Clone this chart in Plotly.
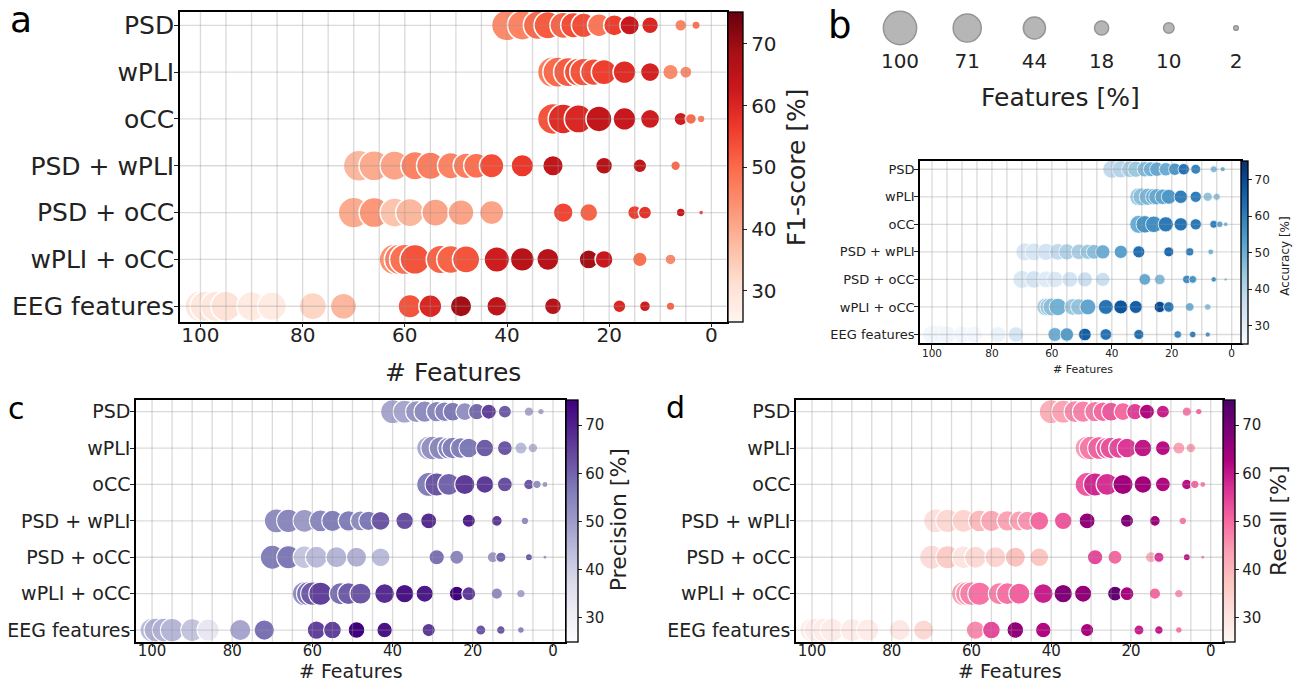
import numpy as np
import plotly.graph_objects as go

W, H = 1301, 684
FONT = "DejaVu Sans"

categories = ["PSD", "wPLI", "oCC", "PSD + wPLI", "PSD + oCC", "wPLI + oCC", "EEG features"]

# number of features kept at each elimination step (per feature set)
n_psd = [40, 37, 34, 32, 29, 27, 25, 22, 19, 16, 12, 6, 3]
n_wpli = [31, 30, 28, 26, 25, 23, 21, 17, 12, 8, 5]
n_occ = [31, 29, 26, 22, 17, 12, 6, 4, 2]
n_psd_wpli = [69, 66, 62, 58, 55, 51, 48, 46, 43, 37, 31, 21, 14, 7]
n_psd_occ = [70, 66, 62, 59, 54, 49, 43, 29, 24, 15, 13, 6, 2]
n_wpli_occ = [62, 61, 60, 58, 53, 51, 48, 42, 37, 32, 24, 21, 14, 8]
n_eeg = [100, 99, 97, 95, 90, 86, 78, 72, 59, 55, 49, 42, 31, 18, 13, 8]
feature_counts = [n_psd, n_wpli, n_occ, n_psd_wpli, n_psd_occ, n_wpli_occ, n_eeg]

# metric values [%] in the same order
f1_score = [
    [45, 46, 50, 52, 51, 54, 54, 48, 56, 63, 60, 46, 49],
    [47, 50, 52, 54, 53, 54, 56, 59, 61, 45, 45],
    [53, 59, 60, 64, 63, 62, 62, 50, 47],
    [38, 40, 41, 46, 47, 46, 47, 49, 54, 57, 64, 66, 64, 50],
    [40, 43, 36, 38, 41, 41, 41, 55, 51, 56, 58, 63, 55],
    [44, 47, 49, 53, 51, 51, 53, 62, 66, 66, 69, 63, 49, 45],
    [29, 29, 29, 30, 28, 28, 33, 38, 53, 60, 69, 65, 66, 60, 62, 51],
]
accuracy = [
    [38, 40, 42, 44, 47, 49, 51, 50, 55, 62, 59, 47, 50],
    [44, 46, 48, 50, 51, 52, 55, 60, 60, 45, 45],
    [50, 56, 57, 61, 62, 61, 60, 52, 48],
    [32, 33, 34, 38, 41, 42, 44, 46, 50, 53, 63, 64, 60, 48],
    [32, 34, 31, 32, 34, 36, 36, 51, 47, 58, 56, 58, 48],
    [42, 44, 46, 49, 44, 45, 52, 62, 68, 66, 70, 62, 50, 46],
    [27, 27, 27, 27, 26, 26, 28, 33, 50, 54, 66, 62, 63, 58, 61, 56],
]
precision = [
    [48, 48, 51, 53, 54, 55, 57, 52, 59, 65, 61, 48, 48],
    [47, 52, 54, 55, 56, 56, 57, 61, 62, 44, 45],
    [56, 62, 60, 66, 66, 63, 62, 52, 50],
    [53, 54, 50, 54, 56, 56, 53, 57, 62, 63, 68, 70, 66, 53],
    [56, 57, 42, 44, 45, 46, 44, 58, 54, 50, 60, 62, 50],
    [53, 58, 61, 65, 58, 61, 62, 68, 72, 71, 75, 66, 53, 48],
    [44, 46, 46, 45, 42, 33, 48, 58, 65, 65, 75, 72, 66, 62, 62, 55],
]
recall = [
    [41, 43, 46, 47, 48, 50, 52, 50, 55, 62, 59, 48, 50],
    [44, 48, 51, 52, 53, 54, 56, 60, 61, 43, 43],
    [52, 58, 57, 64, 64, 62, 61, 50, 47],
    [31, 33, 34, 39, 42, 43, 43, 45, 50, 52, 66, 68, 65, 48],
    [32, 36, 30, 33, 34, 38, 37, 54, 50, 41, 56, 60, 47],
    [43, 45, 47, 49, 47, 49, 51, 59, 68, 66, 72, 63, 50, 45],
    [28, 28, 28, 28, 28, 28, 29, 33, 46, 54, 66, 62, 63, 59, 60, 48],
]

legend_pct = [100, 71, 44, 18, 10, 2]
x_ticks = [0, 20, 40, 60, 80, 100]
cbar_ticks = [30, 40, 50, 60, 70]
C_MIN, C_MAX = 25, 75.2


def px(x):
    return x / W


def py(y):
    return 1 - y / H


panels = [
    dict(name="a", metric=f1_score, cs="Reds", ax="", k=3.1, lw=1.6,
         dom_x=(180, 726.7), dom_y=(11.7, 321.7), yr=[6.33, -0.29],
         cb_x=727.7, cb_th=15, ytf=25, xtf=20, cbtf=20, title_f=25,
         xso=-9, yso=-5,
         xtitle=(453, 372), cbtitle="F1-score [%]", cbt=(796.7, 167.5), cbtf2=25,
         letter=(8, 19.6, 36)),
    dict(name="b", metric=accuracy, cs="Blues", ax="2", k=1.8, lw=0.8,
         dom_x=(920, 1240.7), dom_y=(160.7, 343.3), yr=[6.32, -0.31],
         cb_x=1241.2, cb_th=6.5, ytf=13, xtf=10.5, cbtf=12, title_f=11,
         xso=-5, yso=-3,
         xtitle=(1083, 369), cbtitle="Accuracy [%]", cbt=(1285, 256.7), cbtf2=12,
         letter=(826, 25, 37)),
    dict(name="c", metric=precision, cs="Purples", ax="3", k=2.4, lw=1.2,
         dom_x=(136, 565), dom_y=(400, 641.7), yr=[6.32, -0.32],
         cb_x=566, cb_th=12, ytf=19, xtf=15, cbtf=15, title_f=19,
         xso=-9, yso=-4,
         xtitle=(350.5, 671), cbtitle="Precision [%]", cbt=(618.3, 520), cbtf2=22,
         letter=(6, 408, 30)),
    dict(name="d", metric=recall, cs="RdPu", ax="4", k=2.4, lw=1.2,
         dom_x=(796, 1222.7), dom_y=(400, 641.7), yr=[6.32, -0.32],
         cb_x=1223, cb_th=12, ytf=19, xtf=15, cbtf=15, title_f=19,
         xso=-9, yso=-4,
         xtitle=(1010, 671), cbtitle="Recall [%]", cbt=(1278.3, 520.8), cbtf2=22,
         letter=(664, 407, 30)),
]

fig = go.Figure()
shapes = []
annotations = []
layout_axes = {}

for p in panels:
    xs, ys, cs, ss = [], [], [], []
    for i, (counts, vals) in enumerate(zip(feature_counts, p["metric"])):
        mx = max(counts)
        for n, v in zip(counts, vals):
            xs.append(n)
            ys.append(i)
            cs.append(v)
            ss.append(p["k"] * np.sqrt(n / mx * 100))
    x0, x1 = p["dom_x"]
    y0, y1 = p["dom_y"]
    fig.add_trace(go.Scatter(
        x=xs, y=ys, mode="markers", xaxis="x" + p["ax"], yaxis="y" + p["ax"],
        showlegend=False, hoverinfo="skip",
        marker=dict(size=ss, sizemode="diameter", color=cs, colorscale=p["cs"],
                    cmin=C_MIN, cmax=C_MAX, opacity=1,
                    line=dict(color="white", width=p["lw"]),
                    showscale=True,
                    colorbar=dict(x=px(p["cb_x"]), xanchor="left", xpad=0, ypad=0,
                                  y=py(y0), yanchor="top", len=(y1 - y0) / H,
                                  lenmode="fraction", thickness=p["cb_th"],
                                  outlinecolor="black", outlinewidth=1.3,
                                  tickvals=cbar_ticks, ticks="outside", ticklen=4,
                                  tickcolor="#222", tickwidth=1,
                                  tickfont=dict(family=FONT, size=p["cbtf"], color="#222"))),
    ))
    xa = "xaxis" + p["ax"]
    ya = "yaxis" + p["ax"]
    layout_axes[xa] = dict(domain=[px(x0), px(x1)], range=[104, -3], anchor="y" + p["ax"],
                           tickvals=x_ticks, ticks="outside", ticklen=4, tickcolor="#222",
                           ticklabelstandoff=p["xso"],
                           showline=True, mirror=True, linecolor="black", linewidth=1.5,
                           showgrid=False, zeroline=False,
                           tickfont=dict(family=FONT, size=p["xtf"], color="#222"))
    layout_axes[ya] = dict(domain=[py(y1), py(y0)], range=p["yr"], anchor="x" + p["ax"],
                           tickvals=list(range(len(categories))), ticktext=categories,
                           ticks="outside", ticklen=4, tickcolor="#222",
                           ticklabelstandoff=p["yso"],
                           showline=True, mirror=True, linecolor="black", linewidth=1.5,
                           showgrid=False, zeroline=False,
                           tickfont=dict(family=FONT, size=p["ytf"], color="#222"))
    # grid drawn above markers (matplotlib style)
    xref = "x" + p["ax"]
    yref = "y" + p["ax"]
    for v in range(0, 101, 5):
        shapes.append(dict(type="line", xref=xref, yref=yref + " domain", x0=v, x1=v, y0=0, y1=1,
                           layer="above", line=dict(color="rgba(150,150,150,0.35)", width=1.3)))
    for i in range(len(categories)):
        shapes.append(dict(type="line", xref=xref + " domain", yref=yref, x0=0, x1=1, y0=i, y1=i,
                           layer="above", line=dict(color="rgba(150,150,150,0.35)", width=1.3)))
    annotations.append(dict(text="# Features", x=px(p["xtitle"][0]), y=py(p["xtitle"][1]),
                            xref="paper", yref="paper", showarrow=False, xanchor="center",
                            yanchor="middle", font=dict(family=FONT, size=p["title_f"], color="#222")))
    annotations.append(dict(text=p["cbtitle"], x=px(p["cbt"][0]), y=py(p["cbt"][1]),
                            xref="paper", yref="paper", showarrow=False, textangle=-90,
                            xanchor="center", yanchor="middle",
                            font=dict(family=FONT, size=p["cbtf2"], color="#222")))
    lx, ly, lf = p["letter"]
    annotations.append(dict(text=p["name"], x=px(lx), y=py(ly), xref="paper", yref="paper",
                            showarrow=False, xanchor="left", yanchor="middle",
                            font=dict(family=FONT, size=lf, color="black")))

# size legend of panel b
leg_sizes = [3.33 * np.sqrt(v) for v in legend_pct]
fig.add_trace(go.Scatter(
    x=list(range(len(legend_pct))), y=[0] * len(legend_pct), mode="markers",
    xaxis="x5", yaxis="y5", showlegend=False, hoverinfo="skip",
    marker=dict(size=leg_sizes, color="rgb(152,152,152)",
                line=dict(color="rgb(105,105,105)", width=1.5))))
layout_axes["xaxis5"] = dict(domain=[px(866.4), px(1269.6)], range=[-0.5, 5.5], anchor="y5",
                             tickvals=list(range(len(legend_pct))),
                             ticktext=[str(v) for v in legend_pct], ticks="",
                             showline=False, showgrid=False, zeroline=False,
                             tickfont=dict(family=FONT, size=20, color="#222"))
layout_axes["yaxis5"] = dict(domain=[py(47), py(9)], range=[-1, 1], anchor="x5",
                             visible=False)
annotations.append(dict(text="Features [%]", x=px(1060.8), y=py(97), xref="paper", yref="paper",
                        showarrow=False, xanchor="center", yanchor="middle",
                        font=dict(family=FONT, size=25, color="#222")))

fig.update_layout(width=W, height=H, margin=dict(l=0, r=0, t=0, b=0),
                  paper_bgcolor="white", plot_bgcolor="white",
                  font=dict(family=FONT), shapes=shapes, annotations=annotations,
                  **layout_axes)

fig.write_html("out.html", config={"displayModeBar": False},
               post_script="document.body.style.margin='0px';")
